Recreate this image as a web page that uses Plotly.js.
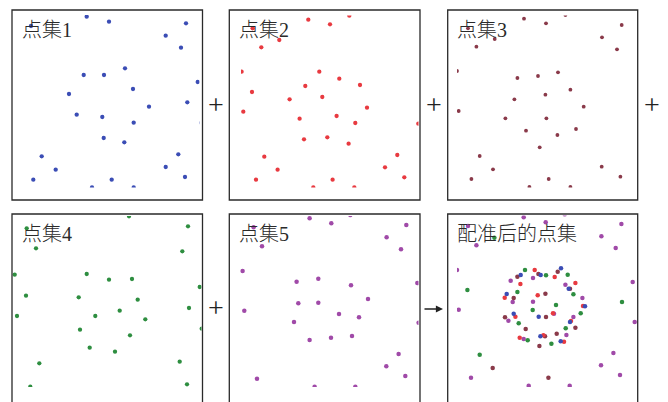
<!DOCTYPE html>
<html><head><meta charset="utf-8">
<script src="https://cdn.plot.ly/plotly-3.0.1.min.js"></script>
<style>html,body{margin:0;padding:0;background:#fff}#c{width:668px;height:402px}</style>
</head><body><div id="c"></div>
<script>
// ---- data (coordinates inside each panel, units of the panel frame) ----
const titles = ['点集1','点集2','点集3','点集4','点集5','配准后的点集'];

const set1X = [74.7,97,174,153.7,169,113,71.7,92,185.7,121,57,175.3,137,64.7,90.3,121.7,189.5,91.7,112.3,29.7,166.3,43.7,153.7,21.3,99.7,173,80,121.7,19];
const set1Y = [183.3,178.3,176.7,164.3,152.3,131.7,125,125,118,111,106,97.7,93.3,85.3,83,77.3,77.3,62,57.7,43.7,45.7,30.3,33,20.3,20.3,23,12.7,12.7,174];

const set2X = [79,100.7,120,23.3,50,32,12.3,90,110,76,130.7,22.7,60.3,93,14,137.7,70.3,107.3,126,189,74.7,98,119.3,35,168,48.3,155.7,26.7,103.3,175,84,125];
const set2Y = [180.3,175.7,184.3,171.7,160,152.7,128.3,128.3,121.3,114,115,108,100.7,103,88.3,92.3,81.3,84,77,76.3,60.7,62.7,56.3,43.3,45,30.3,32.7,20.3,20.3,22.7,12.7,12.7];

const set3X = [76.3,98.3,117.7,174,154.3,169.3,47,28.7,20.3,9.3,110.3,69.7,90.3,122.7,66.7,97.7,11,136,57.7,98.7,78.3,128.3,109.7,92,32,154,45.3,23.7,101,172.7,81.7,122.7];
const set3Y = [181.3,176.7,185,175,162.7,150.7,161,153.3,171.7,129,127.7,122,124,110.3,100.7,105.3,89,93.3,81.7,81.7,69.3,71,65,52.7,44,33.3,30.7,21,21,23.3,13,13];

const set4X = [117,176,14.7,24,170.3,2.7,74.7,97,120,187.7,14,66.7,125.7,177,5,83.3,107.7,133.3,189.7,68,118,77.7,103,27.3,167.7,18.3,175];
const set4Y = [187.7,177.7,175.7,155.7,152.7,129.3,130,124.3,125,117,108.3,106.7,104.3,96,88,88,93.3,84.7,75.3,74.3,68.7,56.3,52.3,40.7,42.3,17.3,19.7];

const set5X = [80.3,102,121,177,24.3,32.7,157.3,171.7,13.3,67.3,89,121.7,188,69,89,138.7,15,109.7,129.7,64.7,189.3,80.3,101.7,122.7,169.3,157,27.7,176,85.3,126];
const set5Y = [185.7,180.7,189,179,176.7,157.7,166.7,154.7,133,122.3,125.3,118.7,121,100.7,101.3,105,93.3,90,86.7,82,81.3,64,66.3,68,50,37.7,25.3,28,17.3,17.3];

// registered result: points coming from each source set
const regBlueX = [113.3,73,93,121,59,91,137.3,66,122.3,92.7,113];
const regBlueY = [135.7,129,129,115.3,110,87.3,97.7,90.3,82,67.7,62.7];
const regRedX = [87,72.7,107,127.7,57,90,105.3,135.3,67.7,123.3,95.7,72,116.3];
const regRedY = [134,120,127,121,106.3,108.7,90.7,98,87.3,83,68.7,66.3,62.3];
const regBrownX = [110,69.7,90.7,122.3,66,97.7,98.3,57.3,127.7,78,109,97.3,91.7,45,100.7];
const regBrownY = [132.3,127.3,130,115.3,106,110.3,87,86.7,76.3,75,70.3,67.7,58,36,26.3];
const regGreenX = [77.3,120,98.3,125.7,69.7,108.3,85,133,71,118,80,103.7,46.7,19.7,174.3,32];
const regGreenY = [134,129.3,128.7,109.7,112,99,94,90.7,80.7,75.7,63.7,60.3,166.3,114,102,49.3];
const regPurpleX = [63,85.3,117.7,65,85.3,134.7,106.3,60.7,125.7,118.7,76,76,98,117,173.7,20.3,28.7,153.7,168,9.3,185,11,187,165.7,153.3,23.3,172.3,81,122];
const regPurpleY = [123.3,126,119.3,102,102.3,106,90.3,83.3,87,69,65,186.7,181.7,189.7,180,178,158.7,167.7,156,134,122,94.3,82,51,38.7,26.3,29,18.3,18.3];

// ---- layout geometry (pixels) ----
const W = 668, H = 402;
const colors = {blue:'#3b4db5', red:'#e83a40', brown:'#8a3a4a', green:'#2e8e40', purple:'#a04aa8'};
// box: [left, top, right, bottom]; clip: visible drawing window
const geo = [
  {box:[12,10,202.5,200],    clip:[12,15,199.5,187.5], ms:4.3},
  {box:[229.3,10,420,200],   clip:[241,15.5,418.5,187.5], ms:4.3},
  {box:[447.7,10,637.7,200], clip:[457,15.5,637.7,187.5], ms:3.8},
  {box:[12,214,202.5,404],   clip:[12,216,201.5,387], ms:4.3},
  {box:[229.3,214,420,404],  clip:[229.3,216,418.5,387], ms:4.5},
  {box:[447.7,214,637.7,404],clip:[457,215.5,637.7,387], ms:4.5}
];
const fx = p => p / W, fy = p => 1 - p / H;

const series = [
  [[set1X,set1Y,colors.blue]],
  [[set2X,set2Y,colors.red]],
  [[set3X,set3Y,colors.brown]],
  [[set4X,set4Y,colors.green]],
  [[set5X,set5Y,colors.purple]],
  [[regPurpleX,regPurpleY,colors.purple],[regBrownX,regBrownY,colors.brown],[regGreenX,regGreenY,colors.green],[regRedX,regRedY,colors.red],[regBlueX,regBlueY,colors.blue]]
];

const data = [];
const layout = {
  width: W, height: H, margin:{l:0,r:0,t:0,b:0},
  paper_bgcolor:'#fff', plot_bgcolor:'rgba(0,0,0,0)', showlegend:false,
  shapes: [], annotations: []
};
const titleFont = {family:'"Liberation Serif", "Noto Sans CJK SC", serif', size:20, color:'#2a2a2a', weight:300};

geo.forEach((g, i) => {
  const n = i + 1, sx = n === 1 ? '' : n;
  const [bl, bt, br, bb] = g.box, [cl, ct, cr, cb] = g.clip;
  layout['xaxis' + sx] = {domain:[fx(cl), fx(cr)], range:[cl - bl, cr - bl], visible:false, fixedrange:true, anchor:'y' + sx};
  layout['yaxis' + sx] = {domain:[fy(cb), fy(ct)], range:[bb - cb, bb - ct], visible:false, fixedrange:true, anchor:'x' + sx};
  series[i].forEach(([xs, ys, col]) => {
    data.push({type:'scatter', mode:'markers', x:xs, y:ys, xaxis:'x' + sx, yaxis:'y' + sx,
      marker:{size:g.ms, color:col, line:{width:0}}, cliponaxis:true, hoverinfo:'skip'});
  });
  layout.shapes.push({type:'rect', xref:'paper', yref:'paper', x0:fx(bl), x1:fx(br), y0:fy(bb), y1:fy(bt),
    line:{color:'#2a2a2a', width:1.3}, fillcolor:'rgba(0,0,0,0)', layer:'above'});
  layout.annotations.push({text:titles[i], xref:'paper', yref:'paper', x:fx(bl + 7.5), y:fy(bt + 20),
    xanchor:'left', yanchor:'middle', showarrow:false, font:titleFont});
});

// operators between panels
const opFont = {family:'"Liberation Serif", serif', size:28, color:'#222'};
[[215.7,105],[433.5,105],[652,105],[215.5,307]].forEach(([x, y]) => {
  layout.annotations.push({text:'+', xref:'paper', yref:'paper', x:fx(x), y:fy(y), xanchor:'center', yanchor:'middle', showarrow:false, font:opFont});
});
layout.annotations.push({text:'', xref:'paper', yref:'paper', axref:'paper', ayref:'paper',
  x:fx(443), y:fy(309), ax:fx(423), ay:fy(309), showarrow:true, arrowhead:2, arrowsize:1.1, arrowwidth:1.3, arrowcolor:'#222'});

Plotly.newPlot('c', data, layout, {staticPlot:true});
</script></body></html>
